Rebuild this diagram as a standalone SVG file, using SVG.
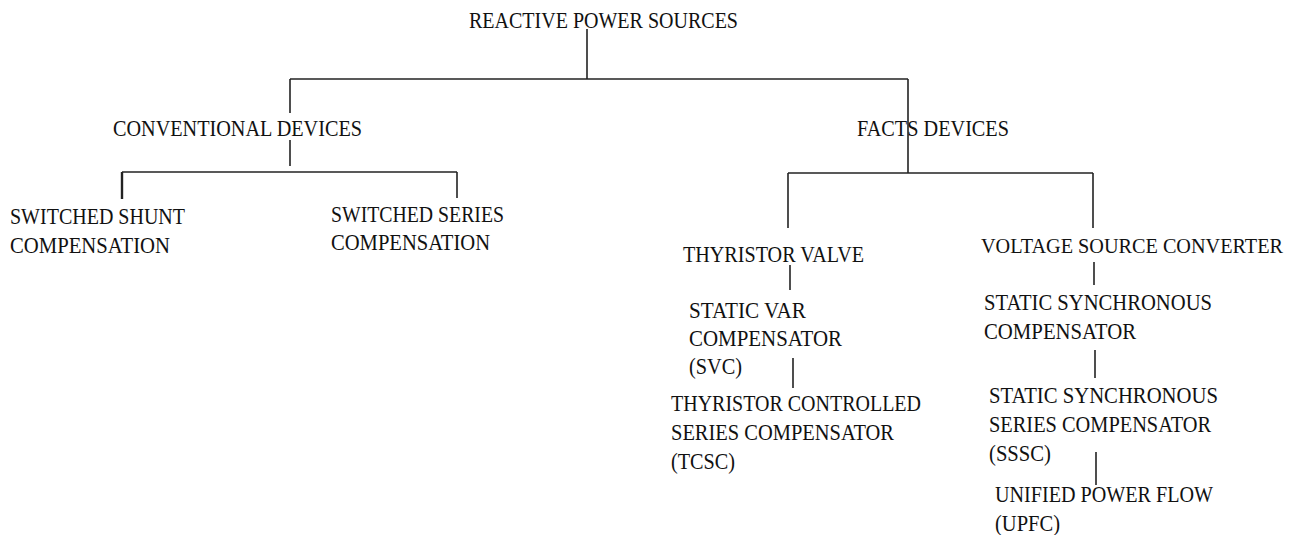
<svg xmlns="http://www.w3.org/2000/svg" width="1300" height="535" viewBox="0 0 1300 535">
<style>
text{font-family:"Liberation Serif","Times New Roman",serif;font-size:23px;fill:#111}
.c line{stroke:#222;stroke-width:1.6}
</style>
<rect width="1300" height="535" fill="#fff"/>
<g class="c" id="connectors">
<line x1="587" y1="29" x2="587" y2="79"/>
<line x1="290" y1="79" x2="908" y2="79"/>
<line x1="290" y1="79" x2="290" y2="113"/>
<line x1="290" y1="140" x2="290" y2="166"/>
<line x1="122" y1="172" x2="457" y2="172"/>
<line x1="122" y1="172" x2="122" y2="199" style="stroke-width:2.4"/>
<line x1="457" y1="172" x2="457" y2="198"/>
<line x1="908" y1="79" x2="908" y2="173"/>
<line x1="788" y1="173" x2="1093" y2="173"/>
<line x1="788" y1="173" x2="788" y2="228"/>
<line x1="1093" y1="173" x2="1093" y2="228"/>
<line x1="790" y1="265" x2="790" y2="290"/>
<line x1="793" y1="358" x2="793" y2="388"/>
<line x1="1094" y1="262" x2="1094" y2="285"/>
<line x1="1095" y1="350" x2="1095" y2="378"/>
<line x1="1096" y1="452" x2="1096" y2="485"/>
</g>
<g id="root"><text x="469" y="28" textLength="269" lengthAdjust="spacingAndGlyphs">REACTIVE POWER SOURCES</text></g>
<g id="conventional"><text x="113" y="136" textLength="249" lengthAdjust="spacingAndGlyphs">CONVENTIONAL DEVICES</text></g>
<g id="facts"><text x="857" y="136" textLength="152" lengthAdjust="spacingAndGlyphs">FACTS DEVICES</text></g>
<g id="shunt"><text x="10" y="224" textLength="175" lengthAdjust="spacingAndGlyphs">SWITCHED SHUNT</text><text x="10" y="253" textLength="160" lengthAdjust="spacingAndGlyphs">COMPENSATION</text></g>
<g id="series"><text x="331" y="222" textLength="173" lengthAdjust="spacingAndGlyphs">SWITCHED SERIES</text><text x="331" y="250" textLength="159" lengthAdjust="spacingAndGlyphs">COMPENSATION</text></g>
<g id="thyristor"><text x="683" y="262" textLength="181" lengthAdjust="spacingAndGlyphs">THYRISTOR VALVE</text></g>
<g id="vsc"><text x="981" y="253" style="font-size:21px" textLength="302" lengthAdjust="spacingAndGlyphs">VOLTAGE SOURCE CONVERTER</text></g>
<g id="svc"><text x="689" y="318" textLength="117" lengthAdjust="spacingAndGlyphs">STATIC VAR</text><text x="689" y="346" textLength="153" lengthAdjust="spacingAndGlyphs">COMPENSATOR</text><text x="689" y="374" textLength="53" lengthAdjust="spacingAndGlyphs">(SVC)</text></g>
<g id="tcsc"><text x="671" y="411" textLength="250" lengthAdjust="spacingAndGlyphs">THYRISTOR CONTROLLED</text><text x="671" y="440" textLength="223" lengthAdjust="spacingAndGlyphs">SERIES COMPENSATOR</text><text x="671" y="469" textLength="64" lengthAdjust="spacingAndGlyphs">(TCSC)</text></g>
<g id="statcom"><text x="984" y="310" textLength="228" lengthAdjust="spacingAndGlyphs">STATIC SYNCHRONOUS</text><text x="984" y="339" textLength="152" lengthAdjust="spacingAndGlyphs">COMPENSATOR</text></g>
<g id="sssc"><text x="989" y="403" textLength="229" lengthAdjust="spacingAndGlyphs">STATIC SYNCHRONOUS</text><text x="989" y="432" textLength="222" lengthAdjust="spacingAndGlyphs">SERIES COMPENSATOR</text><text x="989" y="461" textLength="62" lengthAdjust="spacingAndGlyphs">(SSSC)</text></g>
<g id="upfc"><text x="995" y="502" textLength="218" lengthAdjust="spacingAndGlyphs">UNIFIED POWER FLOW</text><text x="995" y="531" textLength="65" lengthAdjust="spacingAndGlyphs">(UPFC)</text></g>
</svg>
